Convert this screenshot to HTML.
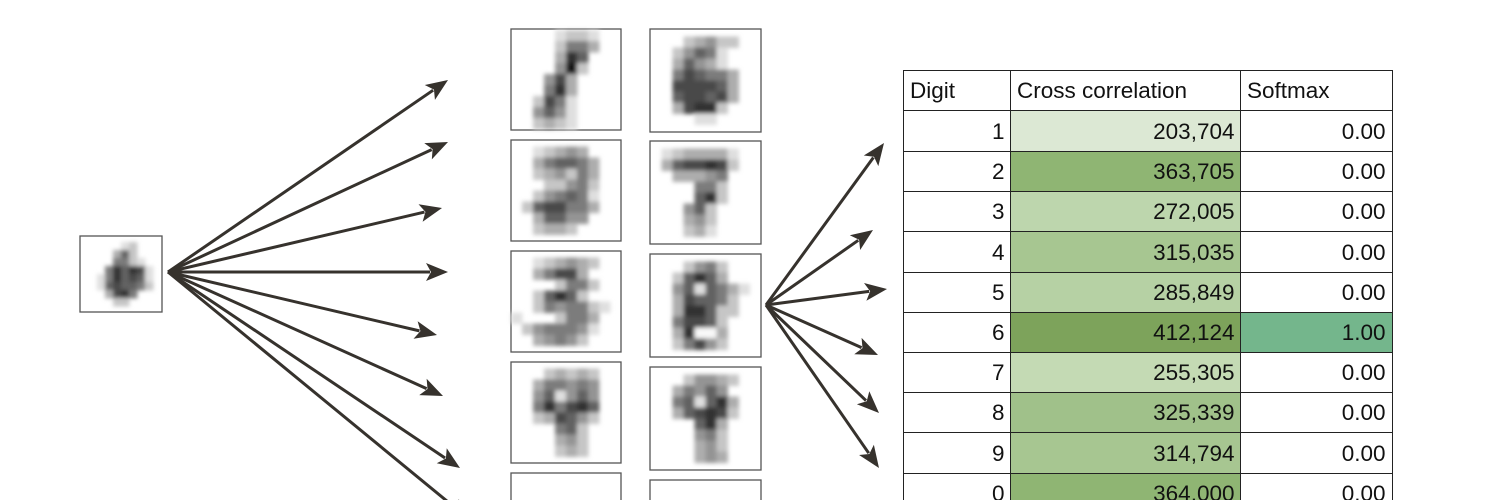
<!DOCTYPE html>
<html><head><meta charset="utf-8"><style>
html,body{margin:0;padding:0;background:#fff;width:1500px;height:500px;overflow:hidden;position:relative;font-family:"Liberation Sans",Arial,sans-serif}
svg{position:absolute;left:0;top:0}
#t{position:absolute;left:0;top:0;width:1500px;height:500px;overflow:hidden}
.c{position:absolute;box-sizing:border-box;border:1.5px solid #222;font-size:22.5px;padding:0 6px;color:#111;white-space:nowrap}
.r{text-align:right}
</style></head><body>
<svg id="s" width="1500" height="500" viewBox="0 0 1500 500">
<defs><filter id="bl" x="-20%" y="-20%" width="140%" height="140%"><feGaussianBlur stdDeviation="2.2"/></filter></defs>
<g id="imgs"></g>
<g stroke="#36322d" stroke-width="3" fill="none" id="arr"></g>
</svg>
<div id="t"></div>
<script>
var s='http://www.w3.org/2000/svg',g0=document.getElementById('imgs'),ar=document.getElementById('arr');
function R(par,x,y,w,h,f,st){var r=document.createElementNS(s,'rect');r.setAttribute('x',x);r.setAttribute('y',y);r.setAttribute('width',w);r.setAttribute('height',h);r.setAttribute('fill',f);if(st){r.setAttribute('stroke',st);r.setAttribute('stroke-width','1.3');}par.appendChild(r);}
function P(p){var v=document.createElementNS(s,'polygon');v.setAttribute('points',p);v.setAttribute('fill','#36322d');v.setAttribute('stroke','none');ar.appendChild(v);}
function arrow(x1,y1,x2,y2){var dx=x2-x1,dy=y2-y1,L=Math.hypot(dx,dy),ux=dx/L,uy=dy/L,hl=22,hw=9;var bx=x2-ux*hl,by=y2-uy*hl;
var l=document.createElementNS(s,'line');l.setAttribute('x1',x1);l.setAttribute('y1',y1);l.setAttribute('x2',bx+ux*4);l.setAttribute('y2',by+uy*4);ar.appendChild(l);
P(x2+','+y2+' '+(bx-uy*hw)+','+(by+ux*hw)+' '+(bx+ux*5)+','+(by+uy*5)+' '+(bx+uy*hw)+','+(by-ux*hw));}
[[448,80],[448,142],[442,208],[448,272],[437,335],[443,396],[460,468],[470,520]].forEach(function(t){arrow(168,272,t[0],t[1]);});
[[884,143],[873,230],[887,289],[878,355],[879,413],[879,468]].forEach(function(t){arrow(766,305,t[0],t[1]);});
function img(x,y,w,h,cs,pat,b){R(g0,x,y,w,h,'#fff','#555');var g=document.createElementNS(s,'g');g.setAttribute('filter','url(#bl)');g0.appendChild(g);
var ox=x+(w-cs*pat[0].length)/2,oy=y+(h-cs*pat.length)/2;
pat.forEach(function(row,i){for(var j=0;j<row.length;j++){var c=row[j];if(c=='.')continue;var v=parseInt(c);var gv=Math.round(248-v*25);R(g,ox+j*cs,oy+i*cs,cs+0.5,cs+0.5,'rgb('+gv+','+gv+','+gv+')');}});}
var D={
1:["....1221..","....2553..","....386...","....492...","...473....","...583....","..2751....","..4641....","..2321...."],
6:["...23422..","..24651...","..36431...","..576553..","..777763..","..677673..","..37882...","....11...."],
2:["..12343...","..356653..","..234253..","...22452..","..245651..",".2677553..","..36644...","..2332...."],
7:[".1233331..",".3677872..","..33345...","....552...","....682...","...462....","...342....","...231...."],
3:["..123432..","..35773...","....2552..","..26862...","..2545521.","1...2553..",".2455541..","..34542..."],
8:["...2452...","..26863...","..4616531.","..376652..","..388622..","..57762...","..38003...","..25742..."],
4:["...23232..","..355454..","..461464..","..585786..","..237642..","....562...","....342...","....232...."],
9:["...24432..","..35464...","..561683..","..367872..","....683...","....452...","....342...","....343...."],
5:["..234431..","..3552....","..4661...."],
0:["....232...","...3443..."]};
img(511,29,110,101,11,D[1]);img(650,29,111,103,11,D[6]);
img(511,140,110,101,11,D[2]);img(650,141,111,103,11,D[7]);
img(511,251,110,101,11,D[3]);img(650,254,111,103,11,D[8]);
img(511,362,110,101,11,D[4]);img(650,367,111,103,11,D[9]);
img(511,473,110,101,11,D[5]);img(650,480,111,103,11,D[0]);
img(80,236,82,76,8,["...12.","..362.","..5521.",".586871","1586761","1676652",".3785..","..22..."]);
var t=document.getElementById('t'),X=[903,1010,1240,1391];
var data=[["1","203,704","0.00","#dce8d4"],["2","363,705","0.00","#8fb573"],["3","272,005","0.00","#bdd6ad"],["4","315,035","0.00","#a7c691"],["5","285,849","0.00","#b6d1a4"],["6","412,124","1.00","#7da35b"],["7","255,305","0.00","#c4dab4"],["8","325,339","0.00","#a0c18a"],["9","314,794","0.00","#a7c691"],["0","364,000","0.00","#8fb573"]];
var Y=[70,110,151,191,231,272,312,352,392,432,473,513];
function cell(i,j,txt,bg,right){var d=document.createElement('div');d.className='c'+(right?' r':'');d.style.left=X[j]+'px';d.style.top=Y[i]+'px';d.style.width=(X[j+1]-X[j]+1.5)+'px';d.style.height=(Y[i+1]-Y[i]+1.5)+'px';d.style.lineHeight=(Y[i+1]-Y[i])+'px';d.style.background=bg;d.textContent=txt;t.appendChild(d);}
cell(0,0,"Digit","#fff");cell(0,1,"Cross correlation","#fff");cell(0,2,"Softmax","#fff");
data.forEach(function(r,k){cell(k+1,0,r[0],"#fff",1);cell(k+1,1,r[1],r[3],1);cell(k+1,2,r[2],r[0]=="6"?"#74b68c":"#fff",1);});
</script>
</body></html>
